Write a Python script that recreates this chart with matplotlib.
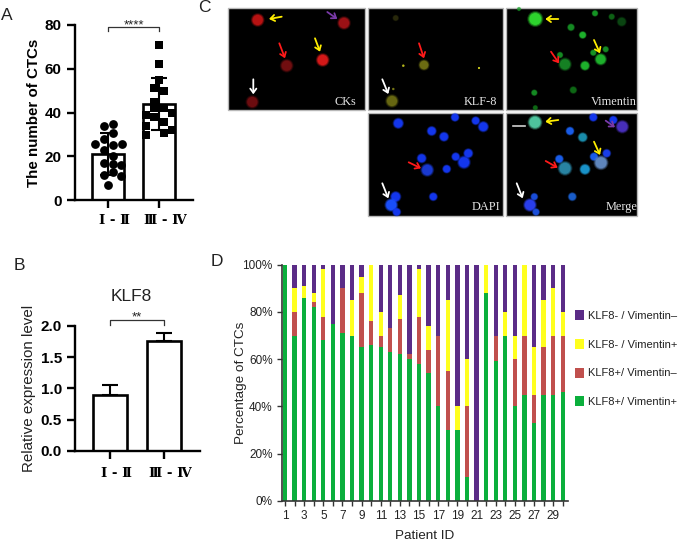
import matplotlib
matplotlib.use('Agg')
import matplotlib.pyplot as plt
from matplotlib.patches import Circle, Rectangle
from matplotlib.transforms import ScaledTranslation
import numpy as np

W, H = 680, 542
SANS = ['Liberation Sans', 'DejaVu Sans']
ROMAN = ['DejaVu Serif', 'Noto Sans CJK SC']

# panel A, values and horizontal jitter of the points
stages = ['Ⅰ - Ⅱ', 'Ⅲ - Ⅳ']
a_low = [33.7, 34.7, 30.8, 28, 25.8, 25.3, 25.8, 22.7, 20, 17, 16.6, 15.9, 11.3, 12.8, 10.8, 6.7]
a_low_x = [-.07, .1, .1, -.07, -.25, .1, .27, -.07, .1, -.07, .1, .25, -.07, .1, .25, 0]
a_high = [70.8, 62, 54.8, 51, 50, 45, 42, 42, 38.8, 40, 34, 35.7, 29.6, 30.7, 32, 38]
a_high_x = [0, 0, 0, -.09, .09, -.09, -.09, .09, -.25, .25, -.25, .09, -.25, .09, .25, -.09]
a_means = [21, 44]
a_sd = [9.5, 11.8]

# panel B
b_means = [0.9, 1.75]
b_err = [0.15, 0.14]

# panel D, cumulative tops of the stacked segments
patients = list(range(1, 31))
green = [100, 70, 86, 82, 68, 75, 71, 70, 65, 66, 65, 63, 62, 60, 58, 54, 40, 30, 30, 10, 0, 88, 59, 70, 40, 45, 33, 45, 45, 46]
red_top = [100, 80, 86, 84, 78, 75, 90, 70, 88, 76, 70, 73, 77, 62, 78, 64, 70, 55, 30, 40, 0, 88, 70, 70, 60, 70, 45, 65, 70, 70]
yellow_top = [100, 90, 91, 88, 98, 75, 90, 85, 95, 100, 80, 73, 87, 62, 98, 74, 70, 85, 40, 60, 0, 100, 70, 80, 70, 100, 65, 85, 90, 80]
seg_names = ['KLF8+/ Vimentin+', 'KLF8+/ Vimentin–', 'KLF8- / Vimentin+', 'KLF8- / Vimentin–']
seg_colors = ['#0BAF3C', '#C0504D', '#FFFF1E', '#5B2C87']

# panel C, cells as (x, y, radius, colour, alpha) in pixels
ck_cells = [(257.7, 20, 6, '#c81414', .8), (344, 23, 6, '#b01418', .75), (286.7, 65.7, 6, '#7a1012', .8),
            (322.7, 60, 6, '#e01a1a', .85), (252.3, 102, 6, '#8a1014', .6)]
klf_cells = [(424, 65, 5, '#8a8a18', .6), (392, 101, 6, '#8a8a18', .55), (403.3, 65.7, 1.2, '#c8c820', .8),
             (393.3, 89, 1.2, '#8a8a18', .7), (395.7, 18, 3, '#3a3a10', .5), (479, 68, 1, '#e8e820', .9)]
vim_cells = [(535.3, 19, 7, '#30e030', .85), (595, 13.3, 3, '#18a028', .8), (571, 27.3, 3.5, '#18a028', .7),
             (582.7, 35, 3.5, '#20c030', .8), (611.7, 16.7, 3, '#107018', .7), (621.7, 21.7, 4.5, '#0c5014', .7),
             (560, 55, 3, '#18a028', .7), (565, 64.3, 6, '#189028', .75), (585, 65.7, 4.5, '#20c030', .8),
             (593.3, 52.7, 3, '#18a028', .8), (600.7, 59.3, 5.5, '#20c030', .8), (605.7, 49.3, 3, '#18a028', .7),
             (534.3, 92.7, 3, '#18a028', .7), (573.3, 90, 3.5, '#107818', .7), (535.3, 107.7, 2.5, '#107818', .7),
             (519, 9, 2, '#18a028', .6)]
dapi_cells = [(398.3, 123.3, 5, '#1438f5', .9), (431.7, 131, 4.5, '#1438f5', .9), (444, 136.7, 4.5, '#1438f5', .9),
              (421.7, 158.3, 4.5, '#1438f5', .85), (427.3, 170, 6, '#1a3cd8', .9), (446.7, 169, 4, '#1438f5', .9),
              (395.7, 196.7, 5, '#1438f5', .9), (391.3, 205, 6, '#1a50ff', .95), (396.7, 212, 4, '#1438f5', .9),
              (433.3, 196.7, 4, '#1438f5', .9), (455, 117.3, 4, '#1438f5', .9), (475.7, 120.7, 4, '#1438f5', .9),
              (483.3, 126.7, 5, '#1438f5', .9), (455.7, 156.7, 4, '#1438f5', .9), (468.3, 153.3, 4.5, '#1438f5', .9),
              (464, 162.3, 6, '#1438f5', .9)]
merge_cells = [(535, 122.3, 6.5, '#50c8a0', .95), (593.3, 117.3, 4, '#1438f5', .9), (613.3, 120, 4, '#1438f5', .9),
               (622.3, 126.7, 6, '#4a30c0', .9), (570, 131, 4, '#1a60f0', .9), (582.7, 137.3, 4.5, '#1a90b0', .9),
               (559.3, 159, 4, '#1a60f0', .9), (565, 168.3, 6.5, '#2a88a8', .9), (585, 169.3, 5, '#1a98d0', .9),
               (594, 156.7, 4, '#1a60f0', .9), (601, 162.7, 6.5, '#6088c0', .95), (606.7, 153.3, 4, '#1a40f0', .9),
               (534.3, 196.7, 3.5, '#1a50e0', .9), (530, 205, 6, '#2a40f0', .95), (536, 212, 3.5, '#1a50e0', .9),
               (572.3, 196.7, 4, '#1a60d0', .9)]

# panel C arrows as (x0, y0, x1, y1, colour)
arrows = [(281.7, 16.7, 269, 19, '#ffee00'), (327.3, 12, 337.3, 19, '#7a3aa8'), (279.3, 43.3, 285, 58.3, '#ff1a1a'),
          (315, 38.3, 320, 51.7, '#ffee00'), (253.3, 79.3, 253.3, 94.3, 'white'), (419, 43.3, 424, 58.3, '#ff1a1a'),
          (382.3, 79.3, 388.3, 94, 'white'), (558.3, 19, 545.3, 19, '#ffee00'), (594, 40, 600, 53.3, '#ffee00'),
          (551, 51.7, 559, 63.3, '#ff1a1a'), (408.7, 162.3, 421, 168.3, '#ff1a1a'), (382.3, 183.3, 388.3, 198.3, 'white'),
          (558.3, 120, 545.3, 121.7, '#ffee00'), (605.7, 120.7, 615, 127.3, '#7a3aa8'), (594, 141.7, 600, 155, '#ffee00'),
          (545.7, 161, 557.7, 167.7, '#ff1a1a'), (516.7, 183.3, 522.7, 198.3, 'white')]
panel_boxes = [(228, 8, 364.7, 110), (367.7, 8, 503, 110), (505.7, 8, 636.7, 110),
               (367.7, 113, 503, 216), (505.7, 113, 636.7, 216)]
panel_names = [('CKs', 345, 101.7), ('KLF-8', 480, 101.7), ('Vimentin', 613.7, 101.7),
               ('DAPI', 485.7, 206.7), ('Merge', 621.7, 206.7)]


def px_axes(fig, left, top, right, bottom):
    return fig.add_axes([left/W, 1-bottom/H, (right-left)/W, (bottom-top)/H])


def bracket(ax, x0, x1, top, drop, label, label_y):
    ax.plot([x0, x0, x1, x1], [top-drop, top, top, top-drop], color='#333333', lw=0.9, clip_on=False)
    ax.text((x0+x1)/2, label_y, label, ha='center', va='center', fontsize=9.5, color='#222222', family=SANS)


def bar_style(ax, ylabel_size, label_dy):
    for s in ['top', 'right']:
        ax.spines[s].set_visible(False)
    for s in ['left', 'bottom']:
        ax.spines[s].set_linewidth(1.7)
    ax.tick_params(width=1.7, length=6)
    ax.set_xticks([0, 1])
    ax.set_xticklabels(stages, family=ROMAN, fontsize=9.5, fontweight='bold')
    # the stage labels sit a little right of their ticks
    shift = ScaledTranslation(6.5/100, label_dy/100, fig.dpi_scale_trans)
    for t in ax.get_xticklabels():
        t.set_transform(t.get_transform()+shift)
    for t in ax.get_yticklabels():
        t.set_family(SANS)
        t.set_fontweight('bold')
        t.set_fontsize(ylabel_size)


fig = plt.figure(figsize=(W/100, H/100), dpi=100)

# panel A
ax = px_axes(fig, 75, 25, 193, 200)
ax.bar([0, 1], a_means, width=0.63, color='white', edgecolor='black', linewidth=1.9, zorder=1)
ax.errorbar([0, 1], a_means, yerr=a_sd, fmt='none', ecolor='black', elinewidth=1.5, capsize=5.5, capthick=1.5, zorder=2)
ax.scatter(a_low_x, a_low, s=40, marker='o', color='black', zorder=3, linewidths=0)
ax.scatter(1+np.array(a_high_x), a_high, s=36, marker='s', color='black', zorder=3, linewidths=0)
ax.set_xlim(-0.647, 1.667)
ax.set_ylim(0, 80)
ax.set_yticks([0, 20, 40, 60, 80])
bar_style(ax, 11, -1)
ax.set_ylabel('The number of CTCs', family=SANS, fontweight='bold', fontsize=10.9, labelpad=2.7)
bracket(ax, 0, 1, 79.2, 2, '****', 80)

# panel B
ax = px_axes(fig, 75, 325.7, 200, 451)
ax.bar([0, 1], b_means, width=0.63, color='white', edgecolor='black', linewidth=1.9)
ax.errorbar([0, 1], b_means, yerr=[[0, 0], b_err], fmt='none', ecolor='black', elinewidth=1.5, capsize=6, capthick=1.5)
ax.set_xlim(-0.648, 1.667)
ax.set_ylim(0, 2)
ax.set_yticks([0, 0.5, 1.0, 1.5, 2.0])
bar_style(ax, 11, -3)
ax.set_ylabel('Relative expression level', family=SANS, fontsize=10.9, labelpad=3.5, color='#222222')
bracket(ax, 0, 1, 2.09, 0.08, '**', 2.13)
ax.text(0.39, 2.46, 'KLF8', ha='center', va='center', fontsize=12.5, family=SANS, color='#222222')

# panel D
ax = px_axes(fig, 281.7, 264.7, 567.7, 500.7)
tops = [green, red_top, yellow_top, [100]*30]
base = [0]*30
handles = []
for top, name, col in zip(tops, seg_names, seg_colors):
    heights = np.array(top)-np.array(base)
    handles.append(ax.bar(patients, heights, bottom=base, width=0.45, color=col, label=name))
    base = top
ax.set_xlim(0.656, 30.52)
ax.set_ylim(0, 100)
ax.set_yticks(range(0, 101, 20))
ax.set_yticklabels([f'{v}%' for v in range(0, 101, 20)], family=SANS, fontsize=8.5, color='#222222')
ax.set_xticks(patients)
ax.set_xticklabels([str(p) if p % 2 else '' for p in patients], family=SANS, fontsize=8.5, color='#222222')
for s in ['top', 'right']:
    ax.spines[s].set_visible(False)
for s in ['left', 'bottom']:
    ax.spines[s].set_linewidth(1.2)
    ax.spines[s].set_color('#333333')
ax.tick_params(width=1.0, length=3.5, color='#333333', pad=3)
ax.set_xlabel('Patient ID', family=SANS, fontsize=9.7, labelpad=6, color='#222222')
ax.set_ylabel('Percentage of CTCs', family=SANS, fontsize=9.7, labelpad=-3.3, color='#222222')
fig.legend(handles[::-1], seg_names[::-1], loc='upper left', bbox_to_anchor=(575/W, 1-310/H), frameon=False,
           prop={'family': SANS, 'size': 8.0}, handlelength=0.85, handleheight=1.0, handletextpad=0.3,
           labelspacing=1.62, borderpad=0, borderaxespad=0, labelcolor='#222222')

# panel C and the panel letters, drawn in pixel coordinates
ov = fig.add_axes([0, 0, 1, 1], zorder=5)
ov.set_xlim(0, W)
ov.set_ylim(H, 0)
ov.axis('off')
ov.patch.set_alpha(0)
for x0, y0, x1, y1 in panel_boxes:
    ov.add_patch(Rectangle((x0, y0), x1-x0, y1-y0, facecolor='black', edgecolor='#b8b8b8', linewidth=1.0))
for cells in [ck_cells, klf_cells, vim_cells, dapi_cells, merge_cells]:
    for x, y, r, col, al in cells:
        for k, a in [(1.15, .3), (1.0, .6), (.85, 1.0)]:
            ov.add_patch(Circle((x, y), r*k, facecolor=col, edgecolor='none', alpha=al*a))
for x0, y0, x1, y1, col in arrows:
    ov.annotate('', xy=(x1, y1), xytext=(x0, y0),
                arrowprops=dict(arrowstyle='->,head_width=0.22,head_length=0.3', color=col, lw=1.3,
                                shrinkA=0, shrinkB=0))
ov.plot([513.3, 524.7], [125.7, 125.7], color='#d0d0d0', lw=1.2)
for name, x, y in panel_names:
    ov.text(x, y, name, color='#e6e6e6', ha='center', va='center', fontsize=8.8, family='Liberation Serif')
for letter, x, y in [('A', 7, 15), ('B', 19, 266), ('C', 204, 7), ('D', 217, 262)]:
    ov.text(x, y, letter, ha='center', va='center', fontsize=12.5, family=SANS, color='#222222')

fig.savefig('out.png', dpi=100)
